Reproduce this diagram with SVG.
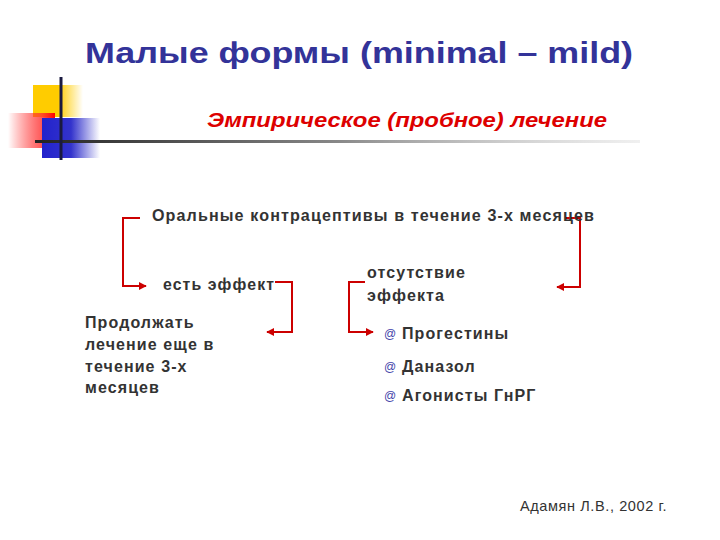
<svg xmlns="http://www.w3.org/2000/svg" width="720" height="540" viewBox="0 0 720 540">
<style>
.t{font-family:"Liberation Sans",Arial,sans-serif;font-weight:bold;fill:#333333;font-size:16px;letter-spacing:1.1px}
.b{font-family:"Liberation Sans",Arial,sans-serif;font-size:12px;fill:#4444aa}
.c{fill:none;stroke:#cc0000;stroke-width:2}
</style>
<defs>
<marker id="ah" viewBox="0 0 10 10" refX="9" refY="5" markerWidth="4" markerHeight="4" orient="auto"><path d="M0,0 L10,5 L0,10 z" fill="#cc0000"/></marker>
<linearGradient id="gy" x1="0" x2="1"><stop offset="0" stop-color="#ffcc00"/><stop offset="0.5" stop-color="#ffcc00"/><stop offset="1" stop-color="#ffcc00" stop-opacity="0"/></linearGradient>
<linearGradient id="gr" x1="1" x2="0"><stop offset="0" stop-color="#ff0000"/><stop offset="0.3" stop-color="#ff3333" stop-opacity="0.8"/><stop offset="1" stop-color="#ff0000" stop-opacity="0"/></linearGradient>
<linearGradient id="gb" x1="0" x2="1"><stop offset="0" stop-color="#2222cc"/><stop offset="0.5" stop-color="#3333cc"/><stop offset="1" stop-color="#3333cc" stop-opacity="0"/></linearGradient>
<linearGradient id="gl" x1="0" x2="1"><stop offset="0" stop-color="#222222"/><stop offset="0.5" stop-color="#888888"/><stop offset="1" stop-color="#cccccc" stop-opacity="0.3"/></linearGradient>
</defs>
<rect width="720" height="540" fill="#ffffff"/>
<g id="decor">
<rect x="33" y="85" width="50" height="32" fill="url(#gy)"/>
<rect x="8" y="113" width="47" height="35" fill="url(#gr)"/>
<rect x="42" y="118" width="58" height="40" fill="url(#gb)"/>
<rect x="35" y="140" width="605" height="3" fill="url(#gl)"/>
<line x1="61" y1="77" x2="61" y2="160" stroke="#1a1a40" stroke-width="3"/>
</g>
<g id="title"><text x="85" y="63" font-family="Liberation Sans,Arial,sans-serif" font-weight="bold" font-size="30" fill="#333399" textLength="548" lengthAdjust="spacingAndGlyphs">Малые формы (minimal – mild)</text></g>
<g id="subtitle"><text x="207" y="127" font-family="Liberation Sans,Arial,sans-serif" font-weight="bold" font-style="italic" font-size="20" fill="#dd0000" textLength="400" lengthAdjust="spacingAndGlyphs">Эмпирическое (пробное) лечение</text></g>
<g id="connectors">
<polyline class="c" points="140,218 123,218 123,286 146,286" marker-end="url(#ah)"/>
<polyline class="c" points="565,218 580,218 580,287 557,287" marker-end="url(#ah)"/>
<polyline class="c" points="275,282 292,282 292,332 267,332" marker-end="url(#ah)"/>
<polyline class="c" points="365,282 349,282 349,332 373,332" marker-end="url(#ah)"/>
</g>
<g id="n-oral"><text class="t" x="152" y="221" textLength="443" lengthAdjust="spacingAndGlyphs">Оральные контрацептивы в течение 3-х месяцев</text></g>
<g id="n-effect"><text class="t" x="163" y="290" textLength="112" lengthAdjust="spacingAndGlyphs">есть эффект</text></g>
<g id="n-noeffect"><text class="t" x="367" y="278">отсутствие</text><text class="t" x="367" y="301">эффекта</text></g>
<g id="n-continue">
<text class="t" x="85" y="328">Продолжать</text>
<text class="t" x="85" y="350">лечение еще в</text>
<text class="t" x="85" y="372">течение 3-х</text>
<text class="t" x="85" y="393">месяцев</text>
</g>
<g id="n-drugs">
<text class="b" x="384" y="338">@</text>
<text class="t" x="402" y="339">Прогестины</text>
<text class="b" x="384" y="371">@</text>
<text class="t" x="402" y="372">Даназол</text>
<text class="b" x="384" y="400">@</text>
<text class="t" x="402" y="401">Агонисты ГнРГ</text>
</g>
<g id="footer"><text x="520" y="511" font-family="Liberation Sans,Arial,sans-serif" font-size="14.5" letter-spacing="0.6" fill="#333333">Адамян Л.В., 2002 г.</text></g>
</svg>
